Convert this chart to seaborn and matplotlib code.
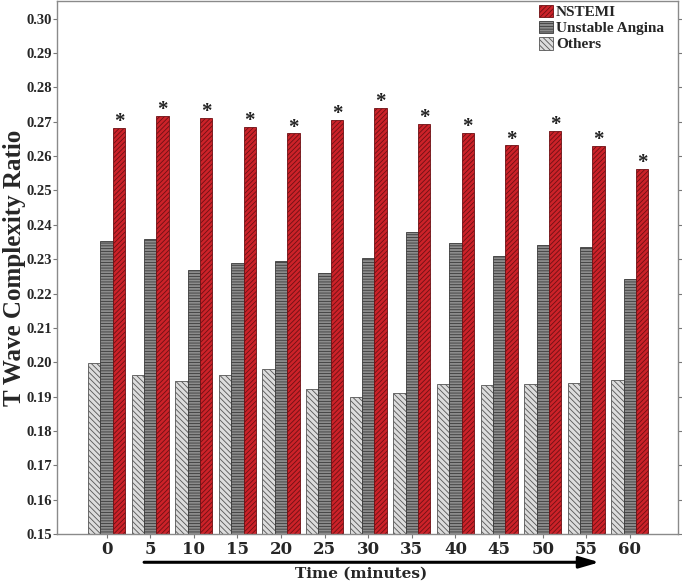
import numpy as np
import pandas as pd
import matplotlib
matplotlib.use("Agg")
import matplotlib.pyplot as plt
import seaborn as sns
from matplotlib.patches import Patch

times = ["0", "5", "10", "15", "20", "25", "30", "35", "40", "45", "50", "55", "60"]
nstemi = [0.2682, 0.2716, 0.2710, 0.2684, 0.2666, 0.2705, 0.2741,
          0.2694, 0.2667, 0.2631, 0.2674, 0.2629, 0.2562]
unstable_angina = [0.2353, 0.2359, 0.2269, 0.2288, 0.2294, 0.2261, 0.2302,
                   0.2378, 0.2346, 0.2309, 0.2342, 0.2334, 0.2241]
others = [0.1999, 0.1964, 0.1946, 0.1962, 0.1981, 0.1923, 0.1900,
          0.1910, 0.1937, 0.1935, 0.1936, 0.1941, 0.1949]
groups = ["Others", "Unstable Angina", "NSTEMI"]
legend_order = ["NSTEMI", "Unstable Angina", "Others"]

df = pd.DataFrame({
    "time": times * 3,
    "group": ["Others"] * 13 + ["Unstable Angina"] * 13 + ["NSTEMI"] * 13,
    "value": others + unstable_angina + nstemi,
})

styles = {
    "Others": dict(face="#dcdcdc", edge="#555555", hatch="\\" * 6),
    "Unstable Angina": dict(face="#8c8c8c", edge="#3a3a3a", hatch="-" * 6),
    "NSTEMI": dict(face="#cc2229", edge="#6e1014", hatch="/" * 7),
}

sns.set_style("white")
plt.rcParams["font.family"] = ["Liberation Serif", "DejaVu Serif"]
plt.rcParams["hatch.linewidth"] = 0.6

fig = plt.figure(figsize=(6.82, 5.83), dpi=100)
ax = fig.add_axes([0.084, 0.084, 0.910, 0.914])

sns.barplot(data=df, x="time", y="value", hue="group", hue_order=groups,
            order=times, width=0.85, ax=ax, legend=False,
            palette=[styles[g]["face"] for g in groups])

for cont, g in zip(ax.containers, groups):
    st = styles[g]
    for bar in cont:
        bar.set_facecolor(st["face"])
        bar.set_edgecolor(st["edge"])
        bar.set_hatch(st["hatch"])
        bar.set_linewidth(0.6)

# significance stars on NSTEMI bars
for bar in ax.containers[2]:
    ax.annotate("*", (bar.get_x() + bar.get_width() / 2, bar.get_height()),
                xytext=(0, -3), textcoords="offset points", ha="center", va="bottom",
                fontsize=15, fontweight="bold", color="#222222")

ax.set_ylim(0.15, 0.3051)
ax.set_xlim(-1.13, 13.1)
ax.set_yticks(np.arange(0.15, 0.3001, 0.01))
ax.set_yticklabels([f"{v:.2f}" for v in np.arange(0.15, 0.3001, 0.01)],
                   fontsize=10.5, fontweight="bold")
ax.set_xticks(range(len(times)))
ax.set_xticklabels(times, fontsize=12, fontweight="bold", family="DejaVu Serif")
ax.tick_params(axis="y", which="both", left=True, right=True, direction="out",
               length=3, width=0.8, color="#777777", pad=1)
ax.tick_params(axis="x", bottom=True, direction="out", length=3, width=0.8,
               color="#777777", pad=2)
for s in ax.spines.values():
    s.set_color("#8a8a8a")
    s.set_linewidth(1.0)

ax.set_ylabel("T Wave Complexity Ratio", fontsize=18, fontweight="bold")
ax.yaxis.set_label_coords(-0.050, 0.5)
ax.set_xlabel("Time (minutes)", fontsize=11, fontweight="bold", family="DejaVu Serif")
ax.xaxis.set_label_coords(0.49, -0.062)

# time arrow under the axis
ax.annotate("", xy=(11.3, -0.053), xytext=(0.86, -0.053),
            xycoords=ax.get_xaxis_transform(), textcoords=ax.get_xaxis_transform(),
            arrowprops=dict(arrowstyle="-|>,head_length=1.2,head_width=0.35",
                            color="black", lw=2.2, shrinkA=0, shrinkB=0),
            annotation_clip=False)

handles = [Patch(facecolor=styles[g]["face"], edgecolor=styles[g]["edge"],
                 hatch=styles[g]["hatch"], linewidth=0.6) for g in legend_order]
ax.legend(handles, legend_order, loc="upper right", bbox_to_anchor=(0.99, 1.008),
          frameon=False, prop=dict(weight="bold", size=11),
          handlelength=0.9, handleheight=0.9, handletextpad=0.2, labelspacing=0.1,
          borderaxespad=0.1)

fig.savefig("out.png", dpi=100)
